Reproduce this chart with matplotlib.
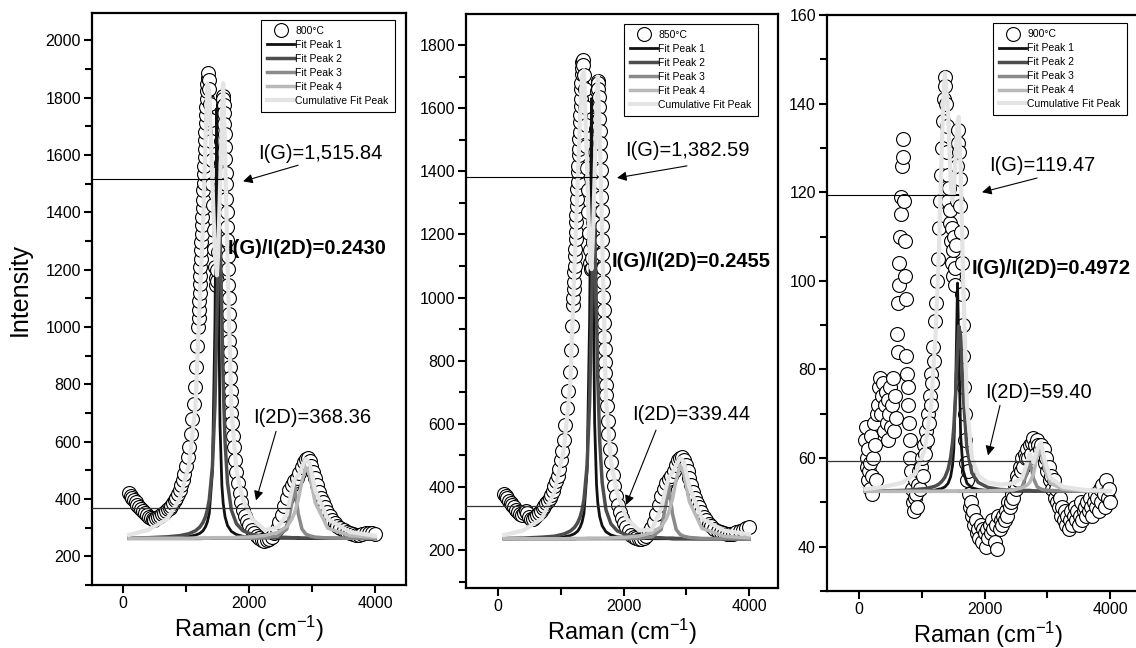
import matplotlib.pyplot as plt
from matplotlib.ticker import MultipleLocator

plt.rcParams['font.family'] = ['Liberation Sans', 'DejaVu Sans']
plt.rcParams['mathtext.fontset'] = 'custom'
plt.rcParams['mathtext.rm'] = 'Liberation Sans'
plt.rcParams['mathtext.it'] = 'Liberation Sans:italic'

#==================================
#          data
#==================================
temps = ['800°C', '850°C', '900°C']

# Raman shift of the 800 and 850 spectra (cm-1)
raman_x = [100, 125, 150, 175, 200, 230, 260, 290, 320, 350, 380, 410, 440, 470, 500,
           530, 560, 590, 620, 650, 680, 710, 740, 770, 800,
           825, 850, 875, 900, 925, 950, 975, 1000, 1025, 1050, 1075, 1100, 1120, 1140,
           1160, 1180, 1195,
           1200, 1205, 1210, 1215, 1220, 1225, 1230, 1235, 1240, 1245, 1250, 1255, 1260,
           1265, 1270, 1275, 1280, 1285, 1290, 1295, 1300, 1305, 1310, 1315, 1320, 1325,
           1330, 1335, 1340, 1345, 1350,
           1360, 1370, 1380, 1390, 1400, 1410, 1420, 1430, 1440, 1450, 1460, 1470, 1480,
           1490, 1500, 1510, 1520, 1530, 1540, 1550, 1560, 1570, 1580, 1590,
           1595, 1600, 1605, 1610, 1615, 1620, 1625, 1630, 1635, 1640, 1645, 1650, 1655,
           1660, 1665, 1670, 1675, 1680, 1685, 1690, 1695, 1700, 1705, 1710, 1715, 1720,
           1730, 1745, 1760, 1780, 1800, 1825, 1850, 1880, 1910, 1940, 1970, 2000, 2040,
           2080, 2120, 2160, 2200, 2240, 2280, 2320, 2360, 2400, 2440, 2480, 2520, 2560,
           2600, 2640, 2680, 2720, 2760, 2800, 2840, 2870, 2900, 2930, 2960, 2990, 3020,
           3050, 3080, 3110, 3140, 3170, 3200, 3240, 3280, 3320, 3360, 3400, 3450, 3500,
           3550, 3600, 3650, 3700, 3750, 3800, 3850, 3900, 3950, 4000]

y800 = [420, 412, 404, 396, 388, 380, 372, 364, 357, 350, 344, 338, 333, 330, 328,
        332, 337, 342, 347, 352, 358, 364, 370, 377, 385,
        395, 405, 418, 432, 448, 466, 488, 515, 545, 580, 625, 680, 730, 790, 860, 935, 1000,
        1030, 1058, 1091, 1117, 1150, 1176, 1210, 1236, 1268, 1297, 1325, 1356, 1384,
        1415, 1443, 1476, 1502, 1534, 1561, 1593, 1620, 1652, 1680, 1710, 1738, 1768,
        1795, 1822, 1848, 1868, 1885,
        1862, 1830, 1778, 1722, 1648, 1582, 1498, 1424, 1338, 1272, 1208, 1172, 1148,
        1162, 1198, 1262, 1328, 1412, 1488, 1572, 1648, 1722, 1773, 1805,
        1795, 1773, 1746, 1708, 1672, 1628, 1587, 1538, 1497, 1448, 1402, 1348, 1302,
        1248, 1203, 1148, 1102, 1046, 1002, 952, 912, 862, 822, 778, 742, 700,
        665, 620, 580, 535, 495, 455, 420, 390, 362, 340, 322, 308, 292, 280, 270, 263,
        258, 255, 256, 260, 268, 280, 296, 318, 345, 375, 405, 430, 450, 462, 472, 490,
        512, 528, 540, 542, 532, 515, 495, 472, 448, 425, 405, 388, 372, 355, 340, 326,
        315, 306, 298, 292, 286, 281, 277, 275, 275, 277, 280, 282, 280, 278]

y850 = [378, 372, 365, 357, 350, 342, 335, 328, 320, 314, 310, 318, 325, 318, 305,
        298, 300, 305, 312, 318, 325, 332, 340, 348, 356,
        365, 375, 388, 402, 418, 436, 458, 485, 515, 550, 595, 650, 705, 765, 835, 910, 975,
        1000, 1027, 1050, 1080, 1101, 1133, 1153, 1185, 1206, 1238, 1260, 1291, 1312,
        1343, 1365, 1396, 1418, 1450, 1471, 1503, 1525, 1556, 1578, 1608, 1630, 1660,
        1681, 1709, 1727, 1745, 1752,
        1735, 1705, 1660, 1605, 1545, 1480, 1410, 1340, 1270, 1205, 1150, 1110, 1090,
        1095, 1125, 1175, 1240, 1310, 1385, 1460, 1535, 1605, 1655, 1685,
        1680, 1662, 1635, 1603, 1566, 1528, 1488, 1447, 1405, 1362, 1318, 1273, 1228,
        1183, 1138, 1093, 1048, 1003, 960, 918, 876, 836, 797, 760, 724, 690,
        655, 610, 568, 520, 478, 437, 402, 370, 342, 320, 302, 287, 272, 259, 249, 242,
        237, 234, 235, 239, 246, 257, 271, 290, 314, 342, 370, 395, 414, 425, 435, 451,
        470, 484, 493, 494, 485, 468, 449, 428, 406, 385, 366, 350, 336, 320, 306, 294,
        284, 276, 268, 262, 257, 253, 251, 250, 252, 256, 260, 265, 270, 272]

x900 = [100, 110, 120, 130, 140, 150, 160, 170, 180, 190, 200, 215, 230, 245, 260, 275, 290,
        305, 320, 335, 350, 365, 380, 395, 410, 425, 440, 455, 470, 485, 500, 515, 530,
        545, 560, 575, 590,
        605, 615, 625, 635, 645, 655, 665, 675, 685, 695, 705, 715, 725, 735, 745, 755,
        765, 775, 785, 795, 805, 815, 825, 840, 855, 870, 885, 900, 915, 930, 945, 960,
        975, 990,
        1005, 1020, 1035, 1050, 1065, 1080, 1095, 1110, 1125, 1140, 1155, 1170, 1185,
        1200, 1215, 1230, 1245, 1260, 1275, 1290, 1305, 1320, 1335, 1350, 1365, 1375,
        1385, 1395, 1405, 1415, 1425, 1435, 1445, 1455, 1465, 1475, 1485, 1495, 1505,
        1515, 1525, 1535, 1545,
        1555, 1565, 1575, 1585, 1595, 1605, 1615, 1625, 1635, 1645, 1655, 1665, 1675,
        1685, 1695,
        1705, 1720, 1735, 1750, 1765, 1780, 1800, 1820, 1840, 1860, 1880, 1900, 1920,
        1940, 1960, 1980, 2000, 2020, 2040, 2060, 2080, 2100, 2120, 2140, 2160, 2180,
        2200, 2220, 2240, 2260, 2280, 2300, 2320, 2340, 2360, 2380, 2400,
        2420, 2440, 2460, 2480, 2500, 2520, 2540, 2560, 2580, 2600, 2620, 2640, 2660,
        2680, 2700, 2720, 2740, 2760, 2780, 2800, 2820, 2840, 2860, 2880,
        2900, 2920, 2940, 2960, 2980, 3000, 3020, 3040, 3060, 3080, 3100, 3120, 3140,
        3160, 3180, 3200, 3220, 3240, 3260, 3280, 3300,
        3320, 3340, 3360, 3380, 3400, 3420, 3440, 3460, 3480, 3500, 3520, 3540, 3560,
        3580, 3600, 3620, 3640, 3660, 3680, 3700, 3720, 3740, 3760, 3780, 3800, 3820,
        3840, 3860, 3880, 3900, 3920, 3940, 3960, 3980, 4000]

y900 = [64, 67, 60, 58, 55, 62, 57, 53, 59, 65, 56, 52, 60, 68, 63, 55, 70,
        72, 76, 78, 70, 74, 77, 66, 72, 75, 68, 73, 64, 70, 76, 67, 72, 78, 66, 74, 69,
        88, 84, 95, 99, 104, 110, 115, 119, 126, 132, 128, 118, 109, 101, 96, 83,
        79, 76, 72, 68, 64, 60, 57, 53, 50, 48, 51, 55, 52, 49, 54, 57, 53, 58,
        60, 56, 63, 61, 66, 64, 70, 68, 74, 72, 79, 77, 85, 82, 91, 95, 100, 105, 112,
        118, 124, 130, 136, 141, 146, 144,
        140, 135, 129, 124, 118, 121, 113, 116, 109, 104, 112, 107, 101, 110, 103, 99, 108,
        118, 126, 131, 134, 129, 123, 117, 111, 104, 97, 90, 83, 76, 70, 64,
        59, 55, 57, 52, 49, 50, 47, 48, 45, 46, 43, 44, 42, 45, 41, 44, 43, 40, 44, 42,
        45, 43, 46, 44, 41, 45, 39.5, 47, 44, 46, 45, 47, 46, 48, 47, 50, 49,
        50, 52, 51, 54, 53, 56, 55, 58, 57, 60, 58, 61, 60, 62, 60, 63, 61, 63.5, 64.5,
        63, 61, 64, 63, 62,
        63, 61, 62, 59, 60, 57, 58, 55, 56, 53, 55, 51, 53, 50, 49, 51, 47, 49, 46, 48, 45,
        47, 44, 46, 48, 45, 47, 49, 46, 48, 45, 47, 50, 46, 48, 49, 47, 50, 48, 51, 49,
        47, 50, 52, 49, 51, 48, 53, 50, 54, 52, 49, 55, 51, 53, 50]

# fitted curves, read on one x grid
fit_x = [100, 400, 700, 900, 1050, 1150, 1220, 1270, 1310, 1340,
         1370, 1420, 1460, 1490, 1510, 1540, 1570, 1590, 1620, 1660,
         1720, 1800, 1900, 2050, 2250, 2450, 2600,
         2680, 2720, 2780, 2840, 2900, 2960, 3050, 3250, 3600, 4000]

p1_800 = [262, 263, 264, 266, 269, 274, 280, 289, 303, 320,
          350, 495, 1012, 1762, 1301, 659, 447, 386, 338, 307,
          287, 276, 270, 267, 264, 263, 263,
          263, 263, 262, 262, 262, 262, 262, 262, 262, 262]
p2_800 = [264, 265, 268, 272, 279, 289, 302, 318, 338, 362,
          398, 514, 728, 1024, 1252, 1332, 1024, 812, 600, 455,
          362, 314, 290, 276, 270, 267, 266,
          265, 265, 265, 264, 264, 264, 264, 263, 263, 262]
p3_800 = [262, 262, 262, 262, 262, 262, 262, 263, 263, 263,
          263, 263, 263, 263, 263, 263, 263, 263, 263, 263,
          263, 263, 263, 263, 265, 270, 295,
          386, 452, 349, 295, 278, 272, 267, 264, 263, 262]
p4_800 = [263, 263, 263, 263, 263, 264, 264, 264, 264, 264,
          264, 265, 265, 265, 265, 265, 265, 265, 265, 265,
          265, 266, 267, 268, 273, 283, 304,
          330, 350, 396, 462, 511, 484, 387, 298, 272, 266]
cum_800 = [275, 292, 330, 400, 520, 720, 1100, 1350, 1650, 1850,
           1820, 1500, 1250, 1180, 1250, 1480, 1720, 1850, 1620, 1220,
           720, 500, 400, 330, 292, 300, 345,
           430, 470, 480, 510, 540, 525, 430, 330, 285, 272]

p1_850 = [235, 236, 237, 239, 242, 246, 252, 260, 273, 289,
          317, 452, 933, 1630, 1201, 604, 407, 350, 306, 277,
          258, 248, 242, 240, 237, 236, 236,
          236, 236, 235, 235, 235, 235, 235, 235, 235, 235]
p2_850 = [237, 238, 241, 244, 251, 260, 272, 287, 306, 328,
          361, 469, 668, 944, 1156, 1230, 944, 747, 549, 414,
          328, 283, 261, 248, 242, 240, 239,
          238, 238, 238, 237, 237, 237, 237, 236, 236, 235]
p3_850 = [235, 235, 235, 235, 235, 235, 235, 236, 236, 236,
          236, 236, 236, 236, 236, 236, 236, 236, 236, 236,
          236, 236, 236, 236, 238, 242, 265,
          349, 410, 315, 265, 250, 244, 240, 237, 236, 235]
p4_850 = [236, 236, 236, 236, 236, 237, 237, 237, 237, 237,
          237, 238, 238, 238, 238, 238, 238, 238, 238, 238,
          238, 239, 240, 241, 245, 255, 274,
          299, 318, 361, 423, 469, 444, 353, 269, 244, 239]
cum_850 = [248, 262, 300, 385, 520, 720, 1100, 1370, 1580, 1700,
           1720, 1410, 1150, 1090, 1180, 1390, 1610, 1700, 1530, 1190,
           680, 480, 380, 300, 262, 265, 330,
           400, 430, 445, 470, 492, 480, 400, 300, 262, 250]

p1_900 = [52.5, 52.5, 52.6, 52.6, 52.7, 52.7, 52.8, 53.0, 53.1, 53.3,
          53.5, 54.3, 55.8, 58.3, 61.9, 76.0, 99.5, 85.0, 64.9, 57.2,
          54.3, 53.3, 52.9, 52.7, 52.6, 52.5, 52.5,
          52.5, 52.5, 52.5, 52.5, 52.5, 52.5, 52.5, 52.5, 52.5, 52.5]
p2_900 = [52.6, 52.6, 52.7, 52.9, 53.1, 53.4, 53.7, 54.1, 54.6, 55.1,
          55.7, 57.5, 60.1, 63.5, 66.8, 74.4, 84.6, 89.8, 87.6, 74.4,
          62.1, 56.6, 54.5, 53.4, 52.9, 52.8, 52.7,
          52.7, 52.7, 52.6, 52.6, 52.6, 52.6, 52.6, 52.6, 52.5, 52.5]
p3_900 = [52.5, 52.5, 52.5, 52.5, 52.5, 52.5, 52.5, 52.5, 52.5, 52.5,
          52.5, 52.5, 52.5, 52.5, 52.5, 52.5, 52.5, 52.5, 52.5, 52.5,
          52.5, 52.5, 52.5, 52.5, 52.6, 52.7, 53.5,
          56.8, 59.5, 55.4, 53.5, 53.0, 52.8, 52.7, 52.6, 52.5, 52.5]
p4_900 = [52.5, 52.5, 52.5, 52.5, 52.5, 52.5, 52.5, 52.5, 52.5, 52.5,
          52.5, 52.5, 52.5, 52.5, 52.5, 52.5, 52.5, 52.6, 52.6, 52.6,
          52.6, 52.6, 52.6, 52.6, 52.7, 52.8, 53.3,
          53.9, 54.5, 56.4, 60.5, 61.9, 57.5, 54.3, 53.0, 52.6, 52.6]
cum_900 = [53.0, 53.5, 54.5, 56.5, 62, 72, 88, 105, 125, 140,
           147, 138, 122, 118, 120, 128, 136, 137, 125, 100,
           72, 60, 56, 54.5, 54, 54.3, 55.5,
           59, 61, 59, 62, 63.5, 59.5, 55.5, 53.5, 52.8, 52.6]

# intensities read by the authors
i_g = [1515.84, 1382.59, 119.47]
i_2d = [368.36, 339.44, 59.40]
g_labels = ['I(G)=1,515.84', 'I(G)=1,382.59', 'I(G)=119.47']
d_labels = ['I(2D)=368.36', 'I(2D)=339.44', 'I(2D)=59.40']
ratio_labels = ['I(G)/I(2D)=0.2430', 'I(G)/I(2D)=0.2455', 'I(G)/I(2D)=0.4972']

#==================================
#          layout (pixels)
#==================================
W, H = 1136, 648
boxes = [(92, 13, 406, 585), (466, 14, 778, 588), (827, 15, 1150, 591)]
xlims = [(-490, 4490), (-510, 4462), (-510, 4637)]
ylims = [(100, 2095), (80, 1898), (30, 160)]
ymajor = [200, 200, 20]
g_end = [1590, 1577, 1580]
d_end = [2650, 2710, 2725]
# text / arrow positions in data units
g_txt = [(2143, 1606), (2024, 1467), (2072, 126.1)]
g_arr = [((2778, 1564), (1905, 1508)), ((3012, 1417), (1896, 1379)), ((2837, 123.2), (1960, 120.0))]
r_txt = [(1667, 1274), (1817, 1113), (1801, 102.8)]
d_txt = [(2063, 685), (2135, 628), (2008, 74.8)]
d_arr = [((2429, 636), (2111, 395)), ((2518, 580), (2040, 343)), ((2247, 71.9), (2056, 60.6))]
leg_pos = [(0.538, 0.988), (0.506, 0.983), (0.514, 0.986)]

data_x = [raman_x, raman_x, x900]
data_y = [y800, y850, y900]
fits = [[p1_800, p2_800, p3_800, p4_800, cum_800],
        [p1_850, p2_850, p3_850, p4_850, cum_850],
        [p1_900, p2_900, p3_900, p4_900, cum_900]]
fit_names = ['Fit Peak 1', 'Fit Peak 2', 'Fit Peak 3', 'Fit Peak 4', 'Cumulative Fit Peak']
fit_cols = ['#111111', '#4d4d4d', '#8a8a8a', '#b9b9b9', '#e4e4e4']
fit_lw = [2.0, 2.5, 2.5, 2.5, 3.0]

#==================================
#          plot
#==================================
fig = plt.figure(figsize=(W / 100, H / 100), dpi=100)

for k in range(3):
    l, t, r, b = boxes[k]
    ax = fig.add_axes([l / W, 1 - b / H, (r - l) / W, (b - t) / H])

    ax.plot(data_x[k], data_y[k], 'o', ls='none', ms=10, mfc='white', mec='black',
            mew=0.8, label=temps[k], zorder=2)
    for j in range(5):
        ax.plot(fit_x, fits[k][j], color=fit_cols[j], lw=fit_lw[j],
                label=fit_names[j], zorder=3 + j)

    # reference lines for I(G) and I(2D)
    ax.plot([xlims[k][0], g_end[k]], [i_g[k], i_g[k]], color='black', lw=0.8, zorder=9)
    ax.plot([xlims[k][0], d_end[k]], [i_2d[k], i_2d[k]], color='#333333', lw=0.9, zorder=9)

    ax.text(g_txt[k][0], g_txt[k][1], g_labels[k], fontsize=14.5, va='center', ha='left')
    ax.annotate('', xy=g_arr[k][1], xytext=g_arr[k][0],
                arrowprops=dict(arrowstyle='-|>', color='black', lw=0.8,
                                mutation_scale=14, shrinkA=0, shrinkB=0))
    ax.text(r_txt[k][0], r_txt[k][1], ratio_labels[k], fontsize=14.5,
            fontweight='bold', va='center', ha='left', zorder=10)
    ax.text(d_txt[k][0], d_txt[k][1], d_labels[k], fontsize=14.5, va='center', ha='left')
    ax.annotate('', xy=d_arr[k][1], xytext=d_arr[k][0],
                arrowprops=dict(arrowstyle='-|>', color='black', lw=0.8,
                                mutation_scale=14, shrinkA=0, shrinkB=0))

    ax.set_xlim(xlims[k])
    ax.set_ylim(ylims[k])
    ax.xaxis.set_major_locator(MultipleLocator(2000))
    ax.xaxis.set_minor_locator(MultipleLocator(1000))
    ax.yaxis.set_major_locator(MultipleLocator(ymajor[k]))
    ax.yaxis.set_minor_locator(MultipleLocator(ymajor[k] / 2))
    ax.tick_params(which='major', direction='out', length=6, width=1.5, labelsize=11.5, pad=2)
    ax.tick_params(which='minor', direction='out', length=5, width=1.5)
    for s in ax.spines.values():
        s.set_linewidth(1.6)
    ax.set_xlabel('Raman (cm$^{-1}$)', fontsize=17, labelpad=2)

    leg = ax.legend(loc='upper left', bbox_to_anchor=leg_pos[k], fontsize=7.5,
                    frameon=True, fancybox=False, edgecolor='black', framealpha=1,
                    handlelength=2.6, handletextpad=0.1, labelspacing=0.38,
                    borderpad=0.6, borderaxespad=0)
    leg.get_frame().set_linewidth(0.8)

fig.text(20 / W, 1 - 290 / H, 'Intensity', rotation=90, fontsize=18, va='center', ha='center')

plt.savefig('out.png', dpi=100)
